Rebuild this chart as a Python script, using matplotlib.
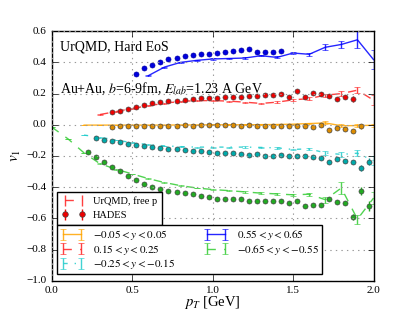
import numpy as np
import matplotlib
matplotlib.use('Agg')
import matplotlib.pyplot as plt

plt.style.use('classic')
plt.rcParams['font.family'] = ['Liberation Serif', 'DejaVu Serif']
plt.rcParams['mathtext.fontset'] = 'stix'
plt.rcParams['figure.facecolor'] = 'white'
plt.rcParams['savefig.facecolor'] = 'white'

# ---- UrQMD (free protons), lines with error bars ----
urq_pt = [0.2, 0.3, 0.4, 0.5, 0.6, 0.7, 0.8, 0.9, 1.0, 1.1, 1.2, 1.3, 1.4, 1.5, 1.6, 1.7, 1.8, 1.9, 2.0]
urq_pt_green = [0.0, 0.1] + urq_pt

urq_orange = [-0.002, -0.002, -0.002, -0.002, -0.002, -0.002, -0.001, -0.001, 0.0, 0.0, 0.0,
              0.001, 0.002, 0.004, 0.008, 0.012, -0.006, -0.005, -0.003]
urq_orange_err = [0.002, 0.002, 0.002, 0.002, 0.002, 0.002, 0.002, 0.002, 0.002, 0.002, 0.003,
                  0.003, 0.003, 0.004, 0.005, 0.01, 0.008, 0.012, 0.01]

urq_red = [None, 0.066, 0.085, 0.105, 0.122, 0.138, 0.15, 0.155, 0.155, 0.152, 0.145,
           0.137, 0.145, 0.16, 0.168, 0.19, 0.2, 0.222, 0.158]
urq_red_err = [0, 0.002, 0.002, 0.002, 0.002, 0.002, 0.003, 0.003, 0.003, 0.003, 0.004,
               0.004, 0.005, 0.006, 0.008, 0.01, 0.015, 0.02, 0.03]

urq_cyan = [-0.066, -0.08, -0.098, -0.115, -0.127, -0.135, -0.14, -0.143, -0.143, -0.143, -0.143,
            -0.145, -0.148, -0.158, -0.154, -0.18, -0.19, -0.182, -0.23]
urq_cyan_err = [0.002, 0.002, 0.002, 0.002, 0.002, 0.002, 0.003, 0.003, 0.003, 0.003, 0.004,
                0.004, 0.005, 0.006, 0.008, 0.012, 0.015, 0.02, 0.03]

urq_blue = [None, None, None, None, 0.315, 0.37, 0.40, 0.413, 0.422, 0.425, 0.428,
            0.443, 0.432, 0.46, 0.452, 0.497, 0.515, 0.545, 0.418]
urq_blue_err = [0, 0, 0, 0, 0.003, 0.003, 0.003, 0.003, 0.004, 0.004, 0.005,
                0.005, 0.006, 0.008, 0.008, 0.02, 0.022, 0.055, 0.06]

urq_green = [-0.015, -0.09, -0.18, -0.25, -0.285, -0.315, -0.345, -0.37, -0.39, -0.405, -0.415,
             -0.422, -0.43, -0.438, -0.443, -0.449, -0.445, -0.48, -0.405, -0.605, -0.47]
urq_green_err = [0.002, 0.002, 0.002, 0.002, 0.002, 0.002, 0.003, 0.003, 0.003, 0.003, 0.004,
                 0.004, 0.005, 0.006, 0.008, 0.008, 0.01, 0.02, 0.04, 0.03, 0.04]

# ---- HADES data points ----
had_pt_orange = [0.375, 0.425, 0.475, 0.525, 0.575, 0.625, 0.675, 0.725, 0.775, 0.825, 0.875,
                 0.925, 0.975, 1.025, 1.075, 1.125, 1.175, 1.225, 1.275, 1.325, 1.375, 1.425,
                 1.475, 1.525, 1.575, 1.625, 1.675, 1.725, 1.775, 1.825, 1.875, 1.925]
had_orange = [-0.016, -0.010, -0.010, -0.008, -0.008, -0.008, -0.005, -0.005, -0.005, -0.003, -0.005,
              -0.002, -0.001, -0.003, -0.003, -0.003, -0.008, 0.001, -0.005, -0.005, -0.010, -0.008,
              -0.010, -0.010, -0.010, -0.014, -0.003, -0.033, -0.020, -0.025, -0.040, -0.010]
had_orange_err = [0.002] * 26 + [0.004, 0.006, 0.006, 0.008, 0.01, 0.015]

had_pt_red = had_pt_orange[:-1]
had_red = [0.079, 0.089, 0.102, 0.115, 0.126, 0.137, 0.143, 0.150, 0.154, 0.158, 0.165,
           0.169, 0.173, 0.173, 0.176, 0.180, 0.180, 0.184, 0.186, 0.191, 0.191, 0.199,
           0.176, 0.218, 0.176, 0.201, 0.197, 0.186, 0.167, 0.176, 0.165]
had_red_err = [0.002] * 25 + [0.004, 0.005, 0.006, 0.008, 0.01, 0.02]

had_pt_cyan = [0.275, 0.325] + had_pt_orange + [1.975]
had_cyan = [-0.083, -0.096, -0.105, -0.113, -0.122, -0.131, -0.137, -0.143, -0.148, -0.154, -0.158,
            -0.161, -0.165, -0.169, -0.173, -0.178, -0.180, -0.182, -0.186, -0.191, -0.186, -0.197,
            -0.197, -0.193, -0.201, -0.197, -0.201, -0.208, -0.214, -0.236, -0.219, -0.234, -0.240,
            -0.277, -0.236]
had_cyan_err = [0.002] * 28 + [0.004, 0.006, 0.006, 0.008, 0.01, 0.02, 0.02]

had_pt_blue = [0.525, 0.575, 0.625, 0.675, 0.725, 0.775, 0.825, 0.875, 0.925, 0.975,
               1.025, 1.075, 1.125, 1.175, 1.225, 1.275, 1.325, 1.375, 1.425]
had_blue = [0.326, 0.361, 0.383, 0.404, 0.419, 0.430, 0.438, 0.447, 0.451, 0.456,
            0.462, 0.469, 0.473, 0.477, 0.484, 0.469, 0.467, 0.467, 0.473]

had_pt_green = [0.225] + had_pt_cyan
had_green = [-0.176, -0.204, -0.240, -0.268, -0.296, -0.326, -0.356, -0.378, -0.396, -0.412, -0.422,
             -0.432, -0.440, -0.446, -0.458, -0.465, -0.475, -0.475, -0.478, -0.478, -0.488, -0.488,
             -0.486, -0.486, -0.486, -0.504, -0.490, -0.520, -0.515, -0.517, -0.473, -0.493, -0.501,
             -0.590, -0.423, -0.520]
had_green_err = [0.002] * 29 + [0.006, 0.008, 0.01, 0.012, 0.02, 0.025, 0.03]


def clean(x, y, e):
    keep = [i for i in range(len(y)) if y[i] is not None]
    return [x[i] for i in keep], [y[i] for i in keep], [e[i] for i in keep]


fig = plt.figure(figsize=(4.15, 3.12), dpi=100)
ax = fig.add_subplot(111)
fig.subplots_adjust(left=0.125, right=0.9, bottom=0.1, top=0.9)

c_or = '#ffa500'
c_red = '#ff2020'
c_cy = '#20cccc'
c_bl = '#0000ff'
c_gr = '#33cc33'

series = [
    (urq_pt, urq_orange, urq_orange_err, c_or, '-', r'$-0.05<y<0.05$'),
    (urq_pt, urq_red, urq_red_err, c_red, '--', r'$0.15<y<0.25$'),
    (urq_pt, urq_cyan, urq_cyan_err, c_cy, '-.', r'$-0.25<y<-0.15$'),
    (urq_pt, urq_blue, urq_blue_err, c_bl, '-', r'$0.55<y<0.65$'),
    (urq_pt_green, urq_green, urq_green_err, c_gr, '--', r'$-0.65<y<-0.55$'),
]
handles = []
for x, y, e, c, ls, lab in series:
    x, y, e = clean(x, y, e)
    h = ax.errorbar(x, y, yerr=e, color=c, ls=ls, lw=1.0, capsize=2, alpha=0.85, label=lab)
    handles.append(h)

ms = 3.6
ax.errorbar(had_pt_orange, had_orange, yerr=had_orange_err, fmt='o', color='#dd8c00',
            ms=ms, mec='#444444', mew=0.5, capsize=0, ecolor='#dd8c00')
ax.errorbar(had_pt_red, had_red, yerr=had_red_err, fmt='o', color='#ee0000',
            ms=ms, mec='#444444', mew=0.5, capsize=0, ecolor='#ee0000')
ax.errorbar(had_pt_cyan, had_cyan, yerr=had_cyan_err, fmt='o', color='#00aaaa',
            ms=ms, mec='#444444', mew=0.5, capsize=0, ecolor='#00aaaa')
ax.plot(had_pt_blue, had_blue, 'o', color='#0000dd', ms=ms, mec='#0000aa', mew=0.5)
ax.errorbar(had_pt_green, had_green, yerr=had_green_err, fmt='o', color='#22aa22',
            ms=ms, mec='#444444', mew=0.5, capsize=0, ecolor='#22aa22')

ax.set_xlim(0.0, 2.0)
ax.set_ylim(-1.0, 0.6)
ax.set_xticks([0.0, 0.5, 1.0, 1.5, 2.0])
ax.set_yticks([-1.0, -0.8, -0.6, -0.4, -0.2, 0.0, 0.2, 0.4, 0.6])
ax.tick_params(labelsize=8, length=4)
ax.grid(True, ls=':', color='#999999', lw=0.8)
ax.set_xlabel(r'$p_T$ [GeV]', fontsize=10.5, labelpad=-1)
ax.set_ylabel(r'$v_1$', fontsize=11, labelpad=2)

ax.text(0.025, 0.935, 'UrQMD, Hard EoS', transform=ax.transAxes, fontsize=10, va='center')
ax.text(0.025, 0.77, r'Au+Au, $b$=6-9fm, $E_{lab}$=1.23 A GeV', transform=ax.transAxes,
        fontsize=10, va='center')

# legend for model vs data
h_urq = ax.errorbar([], [], yerr=[], color=c_red, ls='--', lw=1.0, capsize=2, alpha=0.85)
h_had = ax.errorbar([], [], yerr=[], fmt='o', color='#ee0000', ms=4, mec='#444444', mew=0.5,
                    capsize=0)
leg1 = ax.legend([h_urq, h_had], ['UrQMD, free p', 'HADES'], loc='upper left',
                 bbox_to_anchor=(0.016, 0.357), borderaxespad=0, fontsize=7.5,
                 numpoints=2, handlelength=2.2, labelspacing=0.45, borderpad=0.45)
ax.add_artist(leg1)
ax.legend(handles=handles, loc='upper left', bbox_to_anchor=(0.016, 0.222), borderaxespad=0,
          ncol=2, fontsize=8, numpoints=2, handlelength=2.2, labelspacing=0.05,
          borderpad=0.25, columnspacing=2.6)

plt.savefig('out.png', dpi=100)
